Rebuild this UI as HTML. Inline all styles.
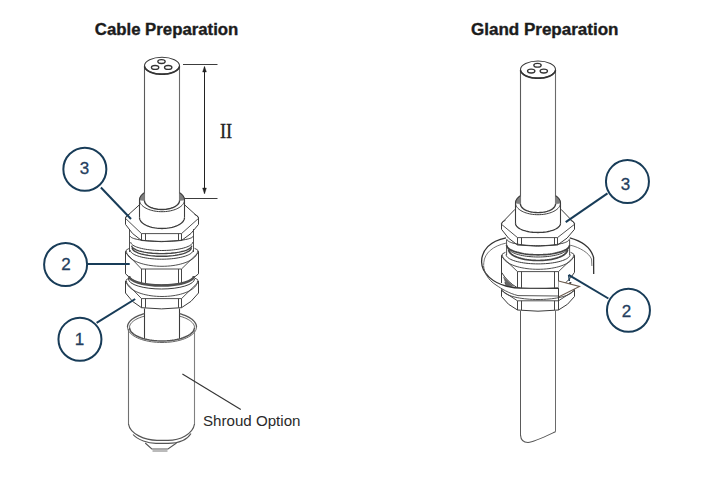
<!DOCTYPE html>
<html><head><meta charset="utf-8"><style>
html,body{margin:0;padding:0;background:#fff;width:702px;height:488px;overflow:hidden}
svg{display:block}
</style></head><body>
<svg width="702" height="488" viewBox="0 0 702 488">
<rect width="702" height="488" fill="#fff"/>
<text x="94.8" y="34.5" font-family="Liberation Sans, sans-serif" font-weight="bold" font-size="16" fill="#1c1c1c" stroke="#1c1c1c" stroke-width="0.35" textLength="143.5" lengthAdjust="spacingAndGlyphs">Cable Preparation</text>
<text x="471" y="34.8" font-family="Liberation Sans, sans-serif" font-weight="bold" font-size="16" fill="#1c1c1c" stroke="#1c1c1c" stroke-width="0.35" textLength="147.5" lengthAdjust="spacingAndGlyphs">Gland Preparation</text>
<line x1="144.5" y1="65.7" x2="144.5" y2="200.5" stroke="#5a5a5a" stroke-width="1.1"/>
<line x1="179.5" y1="65.7" x2="179.5" y2="200.5" stroke="#6a6a6a" stroke-width="1.1"/>
<ellipse cx="162" cy="65.7" rx="17.5" ry="8.5" fill="none" stroke="#3c3c3c" stroke-width="1.1" />
<path d="M144.57,66.44 L144.73,67.07 L144.98,67.68 L145.33,68.29 L145.77,68.88 L146.30,69.46 L146.92,70.01 L147.62,70.54 L148.40,71.05 L149.25,71.52 L150.18,71.97 L151.17,72.38 L152.21,72.75 L153.32,73.08 L154.47,73.37 L155.66,73.62 L156.88,73.83 L158.14,73.99 L159.41,74.11 L160.70,74.18 L162.00,74.20 L163.30,74.18 L164.59,74.11 L165.86,73.99 L167.12,73.83 L168.34,73.62 L169.53,73.37 L170.68,73.08 L171.79,72.75 L172.83,72.38 L173.82,71.97 L174.75,71.52 L175.60,71.05 L176.38,70.54 L177.08,70.01 L177.70,69.46 L178.23,68.88 L178.67,68.29 L179.02,67.68 L179.27,67.07 L179.43,66.44" fill="none" stroke="#333" stroke-width="1.7" />
<ellipse cx="161.5" cy="61.6" rx="3.7" ry="1.9" fill="none" stroke="#333" stroke-width="1.3" />
<ellipse cx="155.1" cy="67.4" rx="3.7" ry="1.9" fill="none" stroke="#333" stroke-width="1.3" />
<ellipse cx="168.2" cy="67.4" rx="3.7" ry="1.9" fill="none" stroke="#333" stroke-width="1.3" />
<line x1="183" y1="64.5" x2="217.5" y2="64.5" stroke="#3c3c3c" stroke-width="1"/>
<line x1="183" y1="198.5" x2="217.5" y2="198.5" stroke="#3c3c3c" stroke-width="1"/>
<line x1="204.5" y1="67" x2="204.5" y2="193" stroke="#222" stroke-width="1"/>
<path d="M204.5,66.3 L202.6,72 L206.4,72 Z" fill="#222" stroke="#222" stroke-width="0.4" />
<path d="M204.5,194 L202.6,188 L206.4,188 Z" fill="#222" stroke="#222" stroke-width="0.4" />
<text x="220" y="137.5" font-family="Liberation Serif, serif" font-size="20.5" fill="#222" stroke="#222" stroke-width="0.35" textLength="12.2" lengthAdjust="spacingAndGlyphs">II</text>
<path d="M139.50,200.00 L139.54,199.34 L139.64,198.68 L139.82,198.02 L140.07,197.37 L140.40,196.73 L140.79,196.10 L141.25,195.48 L141.77,194.88 L142.36,194.29 L143.01,193.72 L143.73,193.17 L144.50,192.65 L144.5,200.5 Z" fill="#808080" stroke="#808080" stroke-width="0.6" />
<path d="M179.50,192.65 L180.27,193.17 L180.99,193.72 L181.64,194.29 L182.23,194.88 L182.75,195.48 L183.21,196.10 L183.60,196.73 L183.93,197.37 L184.18,198.02 L184.36,198.68 L184.46,199.34 L184.50,200.00 L179.5,200.5 Z" fill="#808080" stroke="#808080" stroke-width="0.6" />
<path d="M139.50,200.00 L139.54,199.34 L139.64,198.68 L139.82,198.02 L140.07,197.37 L140.40,196.73 L140.79,196.10 L141.25,195.48 L141.77,194.88 L142.36,194.29 L143.01,193.72 L143.73,193.17 L144.50,192.65" fill="none" stroke="#3c3c3c" stroke-width="1.1" />
<path d="M179.50,192.65 L180.27,193.17 L180.99,193.72 L181.64,194.29 L182.23,194.88 L182.75,195.48 L183.21,196.10 L183.60,196.73 L183.93,197.37 L184.18,198.02 L184.36,198.68 L184.46,199.34 L184.50,200.00" fill="none" stroke="#3c3c3c" stroke-width="1.1" />
<path d="M144.50,200.50 L144.55,201.21 L144.72,201.91 L144.98,202.60 L145.36,203.28 L145.83,203.94 L146.41,204.59 L147.08,205.20 L147.84,205.79 L148.69,206.35 L149.63,206.86 L150.63,207.34 L151.71,207.78 L152.86,208.17 L154.06,208.52 L155.30,208.81 L156.59,209.06 L157.91,209.25 L159.26,209.39 L160.63,209.47 L162.00,209.50 L163.37,209.47 L164.74,209.39 L166.09,209.25 L167.41,209.06 L168.70,208.81 L169.94,208.52 L171.14,208.17 L172.29,207.78 L173.37,207.34 L174.37,206.86 L175.31,206.35 L176.16,205.79 L176.92,205.20 L177.59,204.59 L178.17,203.94 L178.64,203.28 L179.02,202.60 L179.28,201.91 L179.45,201.21 L179.50,200.50" fill="none" stroke="#3c3c3c" stroke-width="1.4" />
<path d="M139.50,200.00 L139.57,200.92 L139.78,201.83 L140.12,202.73 L140.60,203.62 L141.21,204.48 L141.95,205.31 L142.82,206.11 L143.80,206.88 L144.89,207.60 L146.09,208.27 L147.39,208.90 L148.77,209.47 L150.24,209.98 L151.79,210.42 L153.39,210.81 L155.05,211.13 L156.75,211.38 L158.48,211.56 L160.23,211.66 L162.00,211.70 L163.77,211.66 L165.52,211.56 L167.25,211.38 L168.95,211.13 L170.61,210.81 L172.21,210.42 L173.76,209.98 L175.23,209.47 L176.61,208.90 L177.91,208.27 L179.11,207.60 L180.20,206.88 L181.18,206.11 L182.05,205.31 L182.79,204.48 L183.40,203.62 L183.88,202.73 L184.22,201.83 L184.43,200.92 L184.50,200.00" fill="none" stroke="#3c3c3c" stroke-width="1.0" />
<line x1="139.5" y1="200" x2="139.5" y2="217.5" stroke="#3c3c3c" stroke-width="1.1"/>
<line x1="184.5" y1="200" x2="184.5" y2="217.5" stroke="#3c3c3c" stroke-width="1.1"/>
<path d="M139.50,217.50 L139.57,218.36 L139.78,219.22 L140.12,220.07 L140.60,220.90 L141.21,221.71 L141.95,222.49 L142.82,223.25 L143.80,223.97 L144.89,224.64 L146.09,225.28 L147.39,225.86 L148.77,226.40 L150.24,226.88 L151.79,227.30 L153.39,227.66 L155.05,227.96 L156.75,228.20 L158.48,228.36 L160.23,228.47 L162.00,228.50 L163.77,228.47 L165.52,228.36 L167.25,228.20 L168.95,227.96 L170.61,227.66 L172.21,227.30 L173.76,226.88 L175.23,226.40 L176.61,225.86 L177.91,225.28 L179.11,224.64 L180.20,223.97 L181.18,223.25 L182.05,222.49 L182.79,221.71 L183.40,220.90 L183.88,220.07 L184.22,219.22 L184.43,218.36 L184.50,217.50" fill="none" stroke="#3c3c3c" stroke-width="1.3" />
<line x1="125.5" y1="217.4" x2="125.5" y2="224.4" stroke="#3c3c3c" stroke-width="1"/>
<line x1="198.5" y1="217.4" x2="198.5" y2="224.4" stroke="#3c3c3c" stroke-width="1"/>
<path d="M125.5,218.4 Q125.5,215.4 129.5,214.4" fill="none" stroke="#3c3c3c" stroke-width="0.9" />
<path d="M198.5,218.4 Q198.5,215.4 194.5,214.4" fill="none" stroke="#3c3c3c" stroke-width="0.9" />
<path d="M125.5,218.4 L141.5,233.6 L181.5,233.6 L198.5,218.4" fill="none" stroke="#3c3c3c" stroke-width="0.9" />
<line x1="141.5" y1="233.6" x2="141.5" y2="240.5" stroke="#3c3c3c" stroke-width="0.95"/>
<line x1="145.5" y1="233.6" x2="145.5" y2="240.5" stroke="#3c3c3c" stroke-width="0.95"/>
<line x1="178.5" y1="233.6" x2="178.5" y2="240.5" stroke="#3c3c3c" stroke-width="0.95"/>
<line x1="181.5" y1="233.6" x2="181.5" y2="240.5" stroke="#3c3c3c" stroke-width="0.95"/>
<path d="M125.5,224.4 Q131.5,234.45 141.5,240.5 Q161.5,242.9 181.5,240.5 Q192.0,234.45 198.5,224.4" fill="none" stroke="#3c3c3c" stroke-width="1" />
<path d="M125.5,217.4 L139,205.2" fill="none" stroke="#3c3c3c" stroke-width="1" />
<path d="M198.5,217.4 L185,205.2" fill="none" stroke="#3c3c3c" stroke-width="1" />
<line x1="129.5" y1="229" x2="129.5" y2="252" stroke="#3c3c3c" stroke-width="0.9"/>
<line x1="193.5" y1="229" x2="193.5" y2="252" stroke="#3c3c3c" stroke-width="0.9"/>
<path d="M130.20,236.00 L130.30,236.42 L130.59,236.84 L131.07,237.26 L131.74,237.67 L132.60,238.07 L133.63,238.45 L134.84,238.82 L136.22,239.17 L137.75,239.51 L139.43,239.82 L141.24,240.11 L143.18,240.37 L145.24,240.60 L147.40,240.81 L149.65,240.99 L151.97,241.14 L154.35,241.25 L156.77,241.33 L159.23,241.38 L161.70,241.40 L164.17,241.38 L166.63,241.33 L169.05,241.25 L171.43,241.14 L173.75,240.99 L176.00,240.81 L178.16,240.60 L180.22,240.37 L182.16,240.11 L183.97,239.82 L185.65,239.51 L187.18,239.17 L188.56,238.82 L189.77,238.45 L190.80,238.07 L191.66,237.67 L192.33,237.26 L192.81,236.84 L193.10,236.42 L193.20,236.00" fill="none" stroke="#3c3c3c" stroke-width="1" />
<path d="M130.70,242.00 L130.80,242.67 L131.08,243.33 L131.56,243.98 L132.22,244.63 L133.06,245.25 L134.08,245.86 L135.27,246.44 L136.62,247.00 L138.13,247.52 L139.78,248.01 L141.57,248.46 L143.48,248.88 L145.50,249.25 L147.63,249.57 L149.84,249.85 L152.12,250.08 L154.46,250.27 L156.85,250.40 L159.27,250.47 L161.70,250.50 L164.13,250.47 L166.55,250.40 L168.94,250.27 L171.28,250.08 L173.56,249.85 L175.77,249.57 L177.90,249.25 L179.92,248.88 L181.83,248.46 L183.62,248.01 L185.27,247.52 L186.78,247.00 L188.13,246.44 L189.32,245.86 L190.34,245.25 L191.18,244.63 L191.84,243.98 L192.32,243.33 L192.60,242.67 L192.70,242.00" fill="none" stroke="#3c3c3c" stroke-width="1" />
<path d="M131.70,245.60 L131.79,246.23 L132.07,246.85 L132.53,247.47 L133.17,248.07 L133.98,248.66 L134.97,249.23 L136.12,249.78 L137.43,250.30 L138.89,250.80 L140.49,251.26 L142.22,251.68 L144.07,252.07 L146.03,252.42 L148.08,252.73 L150.22,252.99 L152.43,253.21 L154.70,253.38 L157.01,253.50 L159.35,253.58 L161.70,253.60 L164.05,253.58 L166.39,253.50 L168.70,253.38 L170.97,253.21 L173.18,252.99 L175.32,252.73 L177.37,252.42 L179.33,252.07 L181.18,251.68 L182.91,251.26 L184.51,250.80 L185.97,250.30 L187.28,249.78 L188.43,249.23 L189.42,248.66 L190.23,248.07 L190.87,247.47 L191.33,246.85 L191.61,246.23 L191.70,245.60" fill="none" stroke="#444" stroke-width="1.4" />
<path d="M132.20,247.80 L132.29,248.47 L132.56,249.13 L133.02,249.78 L133.64,250.43 L134.45,251.05 L135.42,251.66 L136.55,252.24 L137.83,252.80 L139.27,253.32 L140.84,253.81 L142.54,254.26 L144.36,254.68 L146.29,255.05 L148.31,255.37 L150.41,255.65 L152.58,255.88 L154.81,256.07 L157.09,256.20 L159.39,256.27 L161.70,256.30 L164.01,256.27 L166.31,256.20 L168.59,256.07 L170.82,255.88 L172.99,255.65 L175.09,255.37 L177.11,255.05 L179.04,254.68 L180.86,254.26 L182.56,253.81 L184.13,253.32 L185.57,252.80 L186.85,252.24 L187.98,251.66 L188.95,251.05 L189.76,250.43 L190.38,249.78 L190.84,249.13 L191.11,248.47 L191.20,247.80" fill="none" stroke="#444" stroke-width="1.4" />
<path d="M130.20,250.00 L130.30,250.72 L130.59,251.44 L131.07,252.15 L131.74,252.84 L132.60,253.52 L133.63,254.18 L134.84,254.81 L136.22,255.41 L137.75,255.97 L139.43,256.51 L141.24,257.00 L143.18,257.44 L145.24,257.84 L147.40,258.20 L149.65,258.50 L151.97,258.75 L154.35,258.95 L156.77,259.09 L159.23,259.17 L161.70,259.20 L164.17,259.17 L166.63,259.09 L169.05,258.95 L171.43,258.75 L173.75,258.50 L176.00,258.20 L178.16,257.84 L180.22,257.44 L182.16,257.00 L183.97,256.51 L185.65,255.97 L187.18,255.41 L188.56,254.81 L189.77,254.18 L190.80,253.52 L191.66,252.84 L192.33,252.15 L192.81,251.44 L193.10,250.72 L193.20,250.00" fill="none" stroke="#3c3c3c" stroke-width="1" />
<line x1="125.5" y1="251.3" x2="125.5" y2="273.8" stroke="#3c3c3c" stroke-width="1"/>
<line x1="198.5" y1="251.3" x2="198.5" y2="273.8" stroke="#3c3c3c" stroke-width="1"/>
<path d="M125.5,252.3 Q125.5,249.3 129.5,248.3" fill="none" stroke="#3c3c3c" stroke-width="0.9" />
<path d="M198.5,252.3 Q198.5,249.3 194.5,248.3" fill="none" stroke="#3c3c3c" stroke-width="0.9" />
<path d="M125.5,252.3 L141.5,269 L181.5,269 L198.5,252.3" fill="none" stroke="#3c3c3c" stroke-width="0.9" />
<path d="M126.50,251.30 L126.61,252.48 L126.94,253.65 L127.48,254.80 L128.24,255.94 L129.20,257.04 L130.37,258.11 L131.73,259.14 L133.28,260.12 L135.01,261.04 L136.90,261.91 L138.94,262.71 L141.13,263.44 L143.45,264.09 L145.88,264.67 L148.41,265.16 L151.03,265.57 L153.71,265.89 L156.45,266.12 L159.21,266.25 L162.00,266.30 L164.79,266.25 L167.55,266.12 L170.29,265.89 L172.97,265.57 L175.59,265.16 L178.12,264.67 L180.55,264.09 L182.87,263.44 L185.06,262.71 L187.10,261.91 L188.99,261.04 L190.72,260.12 L192.27,259.14 L193.63,258.11 L194.80,257.04 L195.76,255.94 L196.52,254.80 L197.06,253.65 L197.39,252.48 L197.50,251.30" fill="none" stroke="#3c3c3c" stroke-width="0.9" />
<line x1="141.5" y1="269" x2="141.5" y2="284" stroke="#3c3c3c" stroke-width="0.95"/>
<line x1="145.5" y1="269" x2="145.5" y2="284" stroke="#3c3c3c" stroke-width="0.95"/>
<line x1="178.5" y1="269" x2="178.5" y2="284" stroke="#3c3c3c" stroke-width="0.95"/>
<line x1="181.5" y1="269" x2="181.5" y2="284" stroke="#3c3c3c" stroke-width="0.95"/>
<path d="M125.5,273.8 Q131.5,280.9 141.5,284 Q161.5,286 181.5,284 Q192.0,280.9 198.5,273.8" fill="none" stroke="#3c3c3c" stroke-width="1" />
<path d="M129.0,276 A32.5,9.5 0 0 0 194.0,276" fill="none" stroke="#505050" stroke-width="2.6" />
<path d="M128.5,279 A33,10 0 0 0 194.5,279" fill="none" stroke="#3c3c3c" stroke-width="1" />
<line x1="125.5" y1="281" x2="125.5" y2="293" stroke="#3c3c3c" stroke-width="1"/>
<line x1="198.5" y1="281" x2="198.5" y2="293" stroke="#3c3c3c" stroke-width="1"/>
<path d="M125.5,282 Q125.5,279 129.5,278" fill="none" stroke="#3c3c3c" stroke-width="0.9" />
<path d="M198.5,282 Q198.5,279 194.5,278" fill="none" stroke="#3c3c3c" stroke-width="0.9" />
<path d="M125.5,282 L141.5,298.6 L181.5,298.6 L198.5,282" fill="none" stroke="#3c3c3c" stroke-width="0.9" />
<path d="M126.50,281.00 L126.61,282.22 L126.94,283.42 L127.48,284.62 L128.24,285.79 L129.20,286.93 L130.37,288.04 L131.73,289.10 L133.28,290.11 L135.01,291.07 L136.90,291.96 L138.94,292.79 L141.13,293.54 L143.45,294.22 L145.88,294.81 L148.41,295.32 L151.03,295.74 L153.71,296.07 L156.45,296.31 L159.21,296.45 L162.00,296.50 L164.79,296.45 L167.55,296.31 L170.29,296.07 L172.97,295.74 L175.59,295.32 L178.12,294.81 L180.55,294.22 L182.87,293.54 L185.06,292.79 L187.10,291.96 L188.99,291.07 L190.72,290.11 L192.27,289.10 L193.63,288.04 L194.80,286.93 L195.76,285.79 L196.52,284.62 L197.06,283.42 L197.39,282.22 L197.50,281.00" fill="none" stroke="#3c3c3c" stroke-width="0.9" />
<line x1="141.5" y1="298.6" x2="141.5" y2="307.7" stroke="#3c3c3c" stroke-width="0.95"/>
<line x1="145.5" y1="298.6" x2="145.5" y2="307.7" stroke="#3c3c3c" stroke-width="0.95"/>
<line x1="178.5" y1="298.6" x2="178.5" y2="307.7" stroke="#3c3c3c" stroke-width="0.95"/>
<line x1="181.5" y1="298.6" x2="181.5" y2="307.7" stroke="#3c3c3c" stroke-width="0.95"/>
<path d="M125.5,293 Q131.5,302.35 141.5,307.7 Q161.5,310.09999999999997 181.5,307.7 Q192.0,302.35 198.5,293" fill="none" stroke="#3c3c3c" stroke-width="1" />
<line x1="144.5" y1="308.5" x2="144.5" y2="339" stroke="#3c3c3c" stroke-width="1.1"/>
<line x1="179.5" y1="308.5" x2="179.5" y2="339" stroke="#3c3c3c" stroke-width="1.1"/>
<path d="M127.50,327.00 L127.57,325.99 L127.79,324.99 L128.15,324.00 L128.66,323.02 L129.30,322.06 L130.08,321.11 L131.00,320.20 L132.05,319.31 L133.22,318.45 L134.52,317.63 L135.93,316.85 L137.45,316.11 L139.08,315.42 L140.80,314.77 L142.61,314.18 L144.50,313.64" fill="none" stroke="#555" stroke-width="1.3" />
<path d="M179.50,313.64 L181.39,314.18 L183.20,314.77 L184.92,315.42 L186.55,316.11 L188.07,316.85 L189.48,317.63 L190.78,318.45 L191.95,319.31 L193.00,320.20 L193.92,321.11 L194.70,322.06 L195.34,323.02 L195.85,324.00 L196.21,324.99 L196.43,325.99 L196.50,327.00" fill="none" stroke="#555" stroke-width="1.3" />
<path d="M129.50,327.50 L129.56,326.65 L129.75,325.81 L130.07,324.98 L130.51,324.15 L131.08,323.34 L131.77,322.55 L132.57,321.77 L133.50,321.01 L134.53,320.29 L135.67,319.59 L136.91,318.92 L138.26,318.28 L139.69,317.68 L141.22,317.12 L142.82,316.60 L144.50,316.12" fill="none" stroke="#3c3c3c" stroke-width="0.8" />
<path d="M179.50,316.12 L181.18,316.60 L182.78,317.12 L184.31,317.68 L185.74,318.28 L187.09,318.92 L188.33,319.59 L189.47,320.29 L190.50,321.01 L191.43,321.77 L192.23,322.55 L192.92,323.34 L193.49,324.15 L193.93,324.98 L194.25,325.81 L194.44,326.65 L194.50,327.50" fill="none" stroke="#3c3c3c" stroke-width="0.8" />
<path d="M129.50,327.50 L129.60,328.56 L129.90,329.61 L130.40,330.65 L131.09,331.67 L131.97,332.67 L133.04,333.63 L134.29,334.55 L135.71,335.44 L137.29,336.27 L139.02,337.05 L140.89,337.77 L142.90,338.42 L145.02,339.01 L147.25,339.53 L149.56,339.97 L151.96,340.34 L154.41,340.63 L156.92,340.83 L159.45,340.96 L162.00,341.00 L164.55,340.96 L167.08,340.83 L169.59,340.63 L172.04,340.34 L174.44,339.97 L176.75,339.53 L178.98,339.01 L181.10,338.42 L183.11,337.77 L184.98,337.05 L186.71,336.27 L188.29,335.44 L189.71,334.55 L190.96,333.63 L192.03,332.67 L192.91,331.67 L193.60,330.65 L194.10,329.61 L194.40,328.56 L194.50,327.50" fill="none" stroke="#555" stroke-width="1.5" />
<path d="M127.50,327.00 L127.61,328.22 L127.92,329.42 L128.45,330.62 L129.19,331.79 L130.13,332.93 L131.26,334.04 L132.58,335.10 L134.09,336.11 L135.77,337.07 L137.60,337.96 L139.59,338.79 L141.72,339.54 L143.97,340.22 L146.34,340.81 L148.80,341.32 L151.34,341.74 L153.95,342.07 L156.60,342.31 L159.29,342.45 L162.00,342.50 L164.71,342.45 L167.40,342.31 L170.05,342.07 L172.66,341.74 L175.20,341.32 L177.66,340.81 L180.03,340.22 L182.28,339.54 L184.41,338.79 L186.40,337.96 L188.23,337.07 L189.91,336.11 L191.42,335.10 L192.74,334.04 L193.87,332.93 L194.81,331.79 L195.55,330.62 L196.08,329.42 L196.39,328.22 L196.50,327.00" fill="none" stroke="#666" stroke-width="1.0" />
<line x1="128.5" y1="329" x2="128.5" y2="424" stroke="#707070" stroke-width="1.1"/>
<line x1="194.5" y1="329" x2="194.5" y2="424" stroke="#808080" stroke-width="1.1"/>
<path d="M128.5,424 C130,434 145,440.3 157,440.3 L168,440.3 C180,440.3 193,434 194.5,424" fill="none" stroke="#555" stroke-width="1.2" />
<path d="M133,434.5 C138,440 148,443.4 156,443.4 L168,443.4 C178,443.4 187,440 191,433.5" fill="none" stroke="#555" stroke-width="1.1" />
<path d="M145.2,443 L151.8,449 L168,449 L176.5,443" fill="none" stroke="#555" stroke-width="1.1" />
<path d="M152.5,451 L167.5,451" fill="none" stroke="#777" stroke-width="1.0" />
<line x1="182.4" y1="374" x2="240.8" y2="409.5" stroke="#333" stroke-width="1.1"/>
<text x="203" y="426" font-family="Liberation Sans, sans-serif" font-size="15" fill="#2a2a2a" textLength="97.5" lengthAdjust="spacingAndGlyphs">Shroud Option</text>
<line x1="100.9" y1="187.5" x2="131" y2="219" stroke="#183c58" stroke-width="2"/>
<circle cx="84.85" cy="169.25" r="21.5" fill="#fff" stroke="#183c58" stroke-width="2"/>
<text x="84.5" y="174.3" text-anchor="middle" font-family="Liberation Sans, sans-serif" font-size="17" fill="#243e5e" stroke="#243e5e" stroke-width="0.3">3</text>
<line x1="88" y1="264" x2="129.7" y2="264" stroke="#183c58" stroke-width="2"/>
<circle cx="65.6" cy="264.5" r="21.5" fill="#fff" stroke="#183c58" stroke-width="2"/>
<text x="66" y="270.2" text-anchor="middle" font-family="Liberation Sans, sans-serif" font-size="17" fill="#243e5e" stroke="#243e5e" stroke-width="0.3">2</text>
<line x1="96.6" y1="322.8" x2="135.2" y2="299" stroke="#183c58" stroke-width="2"/>
<circle cx="79.95" cy="339.3" r="21.5" fill="#fff" stroke="#183c58" stroke-width="2"/>
<text x="79.4" y="345.2" text-anchor="middle" font-family="Liberation Sans, sans-serif" font-size="17" fill="#243e5e" stroke="#243e5e" stroke-width="0.3">1</text>
<line x1="520.5" y1="69.6" x2="520.5" y2="204" stroke="#5a5a5a" stroke-width="1.1"/>
<line x1="555.5" y1="69.6" x2="555.5" y2="204" stroke="#6a6a6a" stroke-width="1.1"/>
<ellipse cx="538" cy="69.6" rx="17.5" ry="8.6" fill="none" stroke="#3c3c3c" stroke-width="1.1" />
<path d="M520.57,70.35 L520.73,70.98 L520.98,71.61 L521.33,72.22 L521.77,72.82 L522.30,73.40 L522.92,73.96 L523.62,74.50 L524.40,75.01 L525.25,75.49 L526.18,75.94 L527.17,76.35 L528.21,76.73 L529.32,77.07 L530.47,77.36 L531.66,77.62 L532.88,77.82 L534.14,77.99 L535.41,78.11 L536.70,78.18 L538.00,78.20 L539.30,78.18 L540.59,78.11 L541.86,77.99 L543.12,77.82 L544.34,77.62 L545.53,77.36 L546.68,77.07 L547.79,76.73 L548.83,76.35 L549.82,75.94 L550.75,75.49 L551.60,75.01 L552.38,74.50 L553.08,73.96 L553.70,73.40 L554.23,72.82 L554.67,72.22 L555.02,71.61 L555.27,70.98 L555.43,70.35" fill="none" stroke="#333" stroke-width="1.7" />
<ellipse cx="537.5" cy="65.3" rx="3.7" ry="1.9" fill="none" stroke="#333" stroke-width="1.3" />
<ellipse cx="531.2" cy="71.1" rx="3.7" ry="1.9" fill="none" stroke="#333" stroke-width="1.3" />
<ellipse cx="543.8" cy="71.1" rx="3.7" ry="1.9" fill="none" stroke="#333" stroke-width="1.3" />
<path d="M515.50,203.00 L515.54,202.34 L515.64,201.68 L515.82,201.02 L516.07,200.37 L516.40,199.73 L516.79,199.10 L517.25,198.48 L517.77,197.88 L518.36,197.29 L519.01,196.72 L519.73,196.17 L520.50,195.65 L520.5,204 Z" fill="#808080" stroke="#808080" stroke-width="0.6" />
<path d="M555.50,195.65 L556.27,196.17 L556.99,196.72 L557.64,197.29 L558.23,197.88 L558.75,198.48 L559.21,199.10 L559.60,199.73 L559.93,200.37 L560.18,201.02 L560.36,201.68 L560.46,202.34 L560.50,203.00 L555.5,204 Z" fill="#808080" stroke="#808080" stroke-width="0.6" />
<path d="M515.50,203.00 L515.54,202.34 L515.64,201.68 L515.82,201.02 L516.07,200.37 L516.40,199.73 L516.79,199.10 L517.25,198.48 L517.77,197.88 L518.36,197.29 L519.01,196.72 L519.73,196.17 L520.50,195.65" fill="none" stroke="#3c3c3c" stroke-width="1.1" />
<path d="M555.50,195.65 L556.27,196.17 L556.99,196.72 L557.64,197.29 L558.23,197.88 L558.75,198.48 L559.21,199.10 L559.60,199.73 L559.93,200.37 L560.18,201.02 L560.36,201.68 L560.46,202.34 L560.50,203.00" fill="none" stroke="#3c3c3c" stroke-width="1.1" />
<path d="M520.50,204.00 L520.55,204.67 L520.72,205.35 L520.98,206.01 L521.36,206.66 L521.83,207.29 L522.41,207.90 L523.08,208.49 L523.84,209.05 L524.69,209.59 L525.63,210.08 L526.63,210.54 L527.71,210.96 L528.86,211.33 L530.06,211.66 L531.30,211.95 L532.59,212.18 L533.91,212.36 L535.26,212.49 L536.63,212.57 L538.00,212.60 L539.37,212.57 L540.74,212.49 L542.09,212.36 L543.41,212.18 L544.70,211.95 L545.94,211.66 L547.14,211.33 L548.29,210.96 L549.37,210.54 L550.37,210.08 L551.31,209.59 L552.16,209.05 L552.92,208.49 L553.59,207.90 L554.17,207.29 L554.64,206.66 L555.02,206.01 L555.28,205.35 L555.45,204.67 L555.50,204.00" fill="none" stroke="#3c3c3c" stroke-width="1.4" />
<path d="M515.50,203.00 L515.57,203.92 L515.78,204.83 L516.12,205.73 L516.60,206.62 L517.21,207.48 L517.95,208.31 L518.82,209.11 L519.80,209.88 L520.89,210.60 L522.09,211.27 L523.39,211.90 L524.77,212.47 L526.24,212.98 L527.79,213.42 L529.39,213.81 L531.05,214.13 L532.75,214.38 L534.48,214.56 L536.23,214.66 L538.00,214.70 L539.77,214.66 L541.52,214.56 L543.25,214.38 L544.95,214.13 L546.61,213.81 L548.21,213.42 L549.76,212.98 L551.23,212.47 L552.61,211.90 L553.91,211.27 L555.11,210.60 L556.20,209.88 L557.18,209.11 L558.05,208.31 L558.79,207.48 L559.40,206.62 L559.88,205.73 L560.22,204.83 L560.43,203.92 L560.50,203.00" fill="none" stroke="#3c3c3c" stroke-width="1.0" />
<line x1="515.5" y1="203" x2="515.5" y2="223.3" stroke="#3c3c3c" stroke-width="1.1"/>
<line x1="560.5" y1="203" x2="560.5" y2="223.3" stroke="#3c3c3c" stroke-width="1.1"/>
<path d="M515.50,223.30 L515.57,224.02 L515.78,224.74 L516.12,225.45 L516.60,226.14 L517.21,226.82 L517.95,227.48 L518.82,228.11 L519.80,228.71 L520.89,229.27 L522.09,229.81 L523.39,230.30 L524.77,230.74 L526.24,231.14 L527.79,231.50 L529.39,231.80 L531.05,232.05 L532.75,232.25 L534.48,232.39 L536.23,232.47 L538.00,232.50 L539.77,232.47 L541.52,232.39 L543.25,232.25 L544.95,232.05 L546.61,231.80 L548.21,231.50 L549.76,231.14 L551.23,230.74 L552.61,230.30 L553.91,229.81 L555.11,229.27 L556.20,228.71 L557.18,228.11 L558.05,227.48 L558.79,226.82 L559.40,226.14 L559.88,225.45 L560.22,224.74 L560.43,224.02 L560.50,223.30" fill="none" stroke="#3c3c3c" stroke-width="1.3" />
<line x1="501.5" y1="223.3" x2="501.5" y2="229.3" stroke="#3c3c3c" stroke-width="1"/>
<line x1="574.5" y1="223.3" x2="574.5" y2="229.3" stroke="#3c3c3c" stroke-width="1"/>
<path d="M501.5,224.3 Q501.5,221.3 505.5,220.3" fill="none" stroke="#3c3c3c" stroke-width="0.9" />
<path d="M574.5,224.3 Q574.5,221.3 570.5,220.3" fill="none" stroke="#3c3c3c" stroke-width="0.9" />
<path d="M501.5,224.3 L517.5,237.6 L557.5,237.6 L574.5,224.3" fill="none" stroke="#3c3c3c" stroke-width="0.9" />
<line x1="517.5" y1="237.6" x2="517.5" y2="245" stroke="#3c3c3c" stroke-width="0.95"/>
<line x1="521.5" y1="237.6" x2="521.5" y2="245" stroke="#3c3c3c" stroke-width="0.95"/>
<line x1="554.5" y1="237.6" x2="554.5" y2="245" stroke="#3c3c3c" stroke-width="0.95"/>
<line x1="557.5" y1="237.6" x2="557.5" y2="245" stroke="#3c3c3c" stroke-width="0.95"/>
<path d="M501.5,229.3 Q507.5,239.15 517.5,245 Q537.5,247.4 557.5,245 Q568.0,239.15 574.5,229.3" fill="none" stroke="#3c3c3c" stroke-width="1" />
<path d="M501.5,223.3 L515,209.3" fill="none" stroke="#3c3c3c" stroke-width="1" />
<path d="M574.5,223.3 L561,209.3" fill="none" stroke="#3c3c3c" stroke-width="1" />
<line x1="506.6" y1="239.4" x2="506.6" y2="255" stroke="#3c3c3c" stroke-width="0.9"/>
<line x1="569.6" y1="239.4" x2="569.6" y2="255" stroke="#3c3c3c" stroke-width="0.9"/>
<path d="M507.10,239.40 L507.20,239.89 L507.48,240.39 L507.96,240.87 L508.62,241.35 L509.46,241.81 L510.48,242.26 L511.67,242.69 L513.02,243.10 L514.53,243.49 L516.18,243.85 L517.97,244.19 L519.88,244.50 L521.90,244.77 L524.03,245.01 L526.24,245.22 L528.52,245.39 L530.86,245.53 L533.25,245.62 L535.67,245.68 L538.10,245.70 L540.53,245.68 L542.95,245.62 L545.34,245.53 L547.68,245.39 L549.96,245.22 L552.17,245.01 L554.30,244.77 L556.32,244.50 L558.23,244.19 L560.02,243.85 L561.67,243.49 L563.18,243.10 L564.53,242.69 L565.72,242.26 L566.74,241.81 L567.58,241.35 L568.24,240.87 L568.72,240.39 L569.00,239.89 L569.10,239.40" fill="none" stroke="#3c3c3c" stroke-width="1" />
<path d="M506.60,245.00 L506.70,245.77 L506.99,246.53 L507.47,247.29 L508.14,248.03 L509.00,248.75 L510.03,249.45 L511.24,250.12 L512.62,250.76 L514.15,251.36 L515.83,251.93 L517.64,252.45 L519.58,252.93 L521.64,253.36 L523.80,253.73 L526.05,254.05 L528.37,254.32 L530.75,254.53 L533.17,254.68 L535.63,254.77 L538.10,254.80 L540.57,254.77 L543.03,254.68 L545.45,254.53 L547.83,254.32 L550.15,254.05 L552.40,253.73 L554.56,253.36 L556.62,252.93 L558.56,252.45 L560.37,251.93 L562.05,251.36 L563.58,250.76 L564.96,250.12 L566.17,249.45 L567.20,248.75 L568.06,248.03 L568.73,247.29 L569.21,246.53 L569.50,245.77 L569.60,245.00" fill="none" stroke="#444" stroke-width="1.7" />
<path d="M508.10,247.40 L508.19,248.15 L508.47,248.90 L508.93,249.64 L509.57,250.37 L510.38,251.07 L511.37,251.76 L512.52,252.42 L513.83,253.04 L515.29,253.63 L516.89,254.19 L518.62,254.70 L520.47,255.17 L522.43,255.59 L524.48,255.95 L526.62,256.27 L528.83,256.53 L531.10,256.73 L533.41,256.88 L535.75,256.97 L538.10,257.00 L540.45,256.97 L542.79,256.88 L545.10,256.73 L547.37,256.53 L549.58,256.27 L551.72,255.95 L553.77,255.59 L555.73,255.17 L557.58,254.70 L559.31,254.19 L560.91,253.63 L562.37,253.04 L563.68,252.42 L564.83,251.76 L565.82,251.07 L566.63,250.37 L567.27,249.64 L567.73,248.90 L568.01,248.15 L568.10,247.40" fill="none" stroke="#3c3c3c" stroke-width="1" />
<path d="M508.60,249.50 L508.69,250.36 L508.96,251.22 L509.42,252.07 L510.04,252.90 L510.85,253.71 L511.82,254.49 L512.95,255.25 L514.23,255.97 L515.67,256.64 L517.24,257.28 L518.94,257.86 L520.76,258.40 L522.69,258.88 L524.71,259.30 L526.81,259.66 L528.98,259.96 L531.21,260.20 L533.49,260.36 L535.79,260.47 L538.10,260.50 L540.41,260.47 L542.71,260.36 L544.99,260.20 L547.22,259.96 L549.39,259.66 L551.49,259.30 L553.51,258.88 L555.44,258.40 L557.26,257.86 L558.96,257.28 L560.53,256.64 L561.97,255.97 L563.25,255.25 L564.38,254.49 L565.35,253.71 L566.16,252.90 L566.78,252.07 L567.24,251.22 L567.51,250.36 L567.60,249.50" fill="none" stroke="#444" stroke-width="1.7" />
<path d="M506.10,254.50 L506.20,255.24 L506.49,255.97 L506.98,256.69 L507.67,257.40 L508.54,258.10 L509.59,258.77 L510.82,259.41 L512.21,260.03 L513.77,260.60 L515.47,261.15 L517.32,261.65 L519.29,262.10 L521.38,262.51 L523.57,262.88 L525.85,263.18 L528.21,263.44 L530.63,263.64 L533.09,263.78 L535.59,263.87 L538.10,263.90 L540.61,263.87 L543.11,263.78 L545.57,263.64 L547.99,263.44 L550.35,263.18 L552.63,262.88 L554.82,262.51 L556.91,262.10 L558.88,261.65 L560.73,261.15 L562.43,260.60 L563.99,260.03 L565.38,259.41 L566.61,258.77 L567.66,258.10 L568.53,257.40 L569.22,256.69 L569.71,255.97 L570.00,255.24 L570.10,254.50" fill="none" stroke="#3c3c3c" stroke-width="1" />
<line x1="501.5" y1="255.3" x2="501.5" y2="272.3" stroke="#3c3c3c" stroke-width="1"/>
<line x1="574.5" y1="255.3" x2="574.5" y2="272.3" stroke="#3c3c3c" stroke-width="1"/>
<path d="M501.5,256.3 Q501.5,253.3 505.5,252.3" fill="none" stroke="#3c3c3c" stroke-width="0.9" />
<path d="M574.5,256.3 Q574.5,253.3 570.5,252.3" fill="none" stroke="#3c3c3c" stroke-width="0.9" />
<path d="M501.5,256.3 L517.5,271.6 L558.5,271.6 L574.5,256.3" fill="none" stroke="#3c3c3c" stroke-width="0.9" />
<path d="M502.50,255.30 L502.61,256.40 L502.94,257.49 L503.48,258.57 L504.24,259.63 L505.20,260.66 L506.37,261.66 L507.73,262.61 L509.28,263.53 L511.01,264.39 L512.90,265.20 L514.94,265.95 L517.13,266.63 L519.45,267.24 L521.88,267.77 L524.41,268.23 L527.03,268.61 L529.71,268.91 L532.45,269.13 L535.21,269.26 L538.00,269.30 L540.79,269.26 L543.55,269.13 L546.29,268.91 L548.97,268.61 L551.59,268.23 L554.12,267.77 L556.55,267.24 L558.87,266.63 L561.06,265.95 L563.10,265.20 L564.99,264.39 L566.72,263.53 L568.27,262.61 L569.63,261.66 L570.80,260.66 L571.76,259.63 L572.52,258.57 L573.06,257.49 L573.39,256.40 L573.50,255.30" fill="none" stroke="#3c3c3c" stroke-width="0.9" />
<line x1="517.5" y1="271.6" x2="517.5" y2="287.9" stroke="#3c3c3c" stroke-width="0.95"/>
<line x1="521.5" y1="271.6" x2="521.5" y2="287.9" stroke="#3c3c3c" stroke-width="0.95"/>
<line x1="554.5" y1="271.6" x2="554.5" y2="287.9" stroke="#3c3c3c" stroke-width="0.95"/>
<line x1="558.5" y1="271.6" x2="558.5" y2="287.9" stroke="#3c3c3c" stroke-width="0.95"/>
<path d="M501.5,272.3 Q507.5,282.1 517.5,287.9 Q538.0,289.9 558.5,287.9 Q568.5,282.1 574.5,272.3" fill="none" stroke="#3c3c3c" stroke-width="1" />
<line x1="501.5" y1="272" x2="501.5" y2="283" stroke="#3c3c3c" stroke-width="1"/>
<path d="M505.5,282 A32.5,9.5 0 0 0 570.5,282" fill="none" stroke="#444" stroke-width="2.0" />
<line x1="501.5" y1="289.5" x2="501.5" y2="296.5" stroke="#3c3c3c" stroke-width="1"/>
<line x1="574.5" y1="289.5" x2="574.5" y2="296.5" stroke="#3c3c3c" stroke-width="1"/>
<path d="M501.5,290.5 Q501.5,287.5 505.5,286.5" fill="none" stroke="#3c3c3c" stroke-width="0.9" />
<path d="M574.5,290.5 Q574.5,287.5 570.5,286.5" fill="none" stroke="#3c3c3c" stroke-width="0.9" />
<path d="M501.5,290.5 L517.5,300.8 L558.5,300.8 L574.5,290.5" fill="none" stroke="#3c3c3c" stroke-width="0.9" />
<path d="M502.50,289.50 L502.61,290.28 L502.94,291.06 L503.48,291.83 L504.24,292.59 L505.20,293.33 L506.37,294.04 L507.73,294.72 L509.28,295.38 L511.01,295.99 L512.90,296.57 L514.94,297.10 L517.13,297.59 L519.45,298.03 L521.88,298.41 L524.41,298.74 L527.03,299.01 L529.71,299.22 L532.45,299.38 L535.21,299.47 L538.00,299.50 L540.79,299.47 L543.55,299.38 L546.29,299.22 L548.97,299.01 L551.59,298.74 L554.12,298.41 L556.55,298.03 L558.87,297.59 L561.06,297.10 L563.10,296.57 L564.99,295.99 L566.72,295.38 L568.27,294.72 L569.63,294.04 L570.80,293.33 L571.76,292.59 L572.52,291.83 L573.06,291.06 L573.39,290.28 L573.50,289.50" fill="none" stroke="#3c3c3c" stroke-width="0.9" />
<line x1="517.5" y1="300.8" x2="517.5" y2="310" stroke="#3c3c3c" stroke-width="0.95"/>
<line x1="521.5" y1="300.8" x2="521.5" y2="310" stroke="#3c3c3c" stroke-width="0.95"/>
<line x1="554.5" y1="300.8" x2="554.5" y2="310" stroke="#3c3c3c" stroke-width="0.95"/>
<line x1="558.5" y1="300.8" x2="558.5" y2="310" stroke="#3c3c3c" stroke-width="0.95"/>
<path d="M501.5,296.5 Q507.5,305.25 517.5,310 Q538.0,312.4 558.5,310 Q568.5,305.25 574.5,296.5" fill="none" stroke="#3c3c3c" stroke-width="1" />
<path d="M506,237.8 C490,241 481.5,250 481.6,262" fill="none" stroke="#333" stroke-width="1.3" />
<path d="M506,243.1 C493,246 484.5,253 483.8,262.6 L483.6,266" fill="none" stroke="#666" stroke-width="0.9" />
<path d="M569.7,237.8 C582,241 591,248 593.6,257.5 L593.7,274" fill="none" stroke="#333" stroke-width="1.3" />
<path d="M570.4,245.2 C580,247.5 589,253 591.5,259 L591.9,266" fill="none" stroke="#666" stroke-width="0.9" />
<path d="M481.6,262 C481.8,274 494,283 506,286 C512,287.5 516,288 520.6,288.2 L559,288.3 L558.5,296 L518,295.6 C508,293 502,289 496,285 C488,280 484,272 483.6,266 Z" fill="#fff" stroke="#3c3c3c" stroke-width="0" stroke="none"/>
<path d="M481.6,262 C481.8,274 494,283 506,286 C512,287.5 516,288 520.6,288.2 L559,288.3" fill="none" stroke="#333" stroke-width="1.3" />
<path d="M483.6,266 C484,272 488,280 496,285 C502,289 508,293 518,295.6 L558.5,296" fill="none" stroke="#555" stroke-width="1.0" />
<path d="M503.5,277 L513.5,286.2 L506.5,285.2 Z" fill="#666" stroke="#666" stroke-width="0.6" />
<path d="M558.5,281 L579.5,286.5 L558.5,297" fill="#fff" stroke="#6b5a4c" stroke-width="1.1" />
<line x1="558.5" y1="288" x2="558.5" y2="301" stroke="#3c3c3c" stroke-width="1"/>
<line x1="520.5" y1="311" x2="520.5" y2="435" stroke="#5a5a5a" stroke-width="1"/>
<line x1="555.5" y1="311" x2="555.5" y2="431.7" stroke="#6a6a6a" stroke-width="1"/>
<path d="M520.5,435 Q521,442.5 528,442.5 C534,442 540,439 555.5,431.7" fill="none" stroke="#555" stroke-width="1.1" />
<line x1="607.5" y1="193.4" x2="565.7" y2="222.1" stroke="#183c58" stroke-width="2"/>
<circle cx="627.45" cy="181.6" r="21.5" fill="#fff" stroke="#183c58" stroke-width="2"/>
<text x="625.4" y="189.6" text-anchor="middle" font-family="Liberation Sans, sans-serif" font-size="17" fill="#243e5e" stroke="#243e5e" stroke-width="0.3">3</text>
<line x1="608.4" y1="298.5" x2="568.6" y2="274.8" stroke="#183c58" stroke-width="2"/>
<line x1="568.6" y1="275" x2="569.4" y2="281" stroke="#183c58" stroke-width="1.4"/>
<circle cx="628.45" cy="310.35" r="21.5" fill="#fff" stroke="#183c58" stroke-width="2"/>
<text x="626.6" y="317.1" text-anchor="middle" font-family="Liberation Sans, sans-serif" font-size="17" fill="#243e5e" stroke="#243e5e" stroke-width="0.3">2</text>
</svg>
</body></html>
